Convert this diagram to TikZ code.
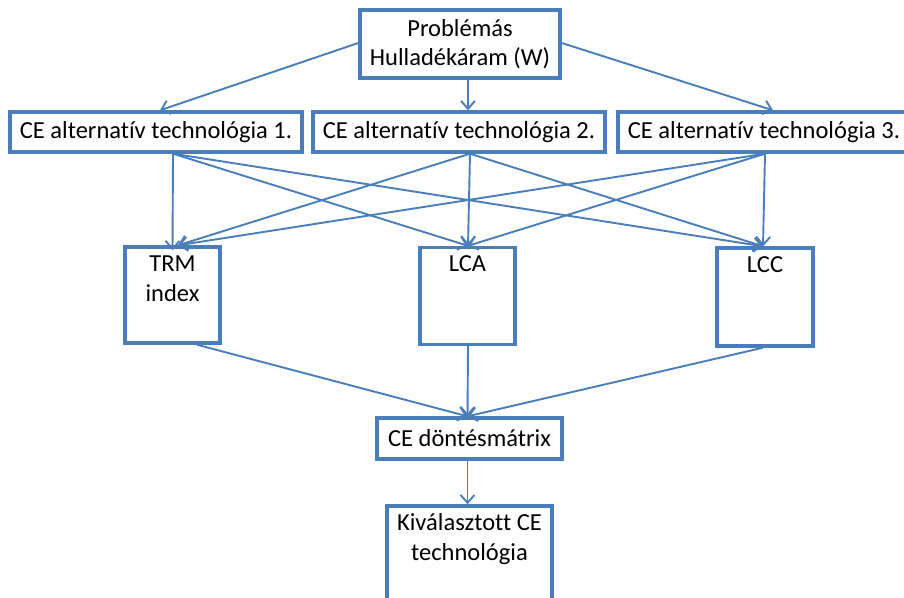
\documentclass[tikz,border=0pt]{standalone}
\usepackage{fontspec}
\setmainfont{Carlito}[Ligatures=NoCommon]
\usetikzlibrary{arrows.meta,calc}

\definecolor{boxblue}{HTML}{4A7EBB}

\begin{document}
\begin{tikzpicture}[x=1pt,y=-1pt,
  box/.style={draw=boxblue, line width=3.4pt, fill=white, inner sep=0pt,
              font=\fontsize{24.5}{29}\selectfont, align=center, text=black},
  txt/.style={font=\fontsize{24.5}{30.5}\selectfont, align=center, text=black, inner sep=0pt},
  conn/.style={draw=boxblue, line width=1.9pt,
               -{Straight Barb[length=8pt,width=14pt,line width=1.9pt]}}]
\useasboundingbox (0,0) rectangle (904,597);

% boxes
\node[box, minimum width=200pt, minimum height=68pt] (src) at (460,44) {Problémás\\Hulladékáram (W)};
\node[box, minimum width=292pt, minimum height=40pt] (alt1) at (156,132) {CE alternatív technológia 1.};
\node[box, minimum width=292pt, minimum height=40pt] (alt2) at (459,132) {CE alternatív technológia 2.};
\node[box, minimum width=292pt, minimum height=40pt] (alt3) at (764,132) {CE alternatív technológia 3.};

\node[box, minimum width=95pt, minimum height=96pt] (trm) at (172.5,295) {};
\node[box, minimum width=95pt, minimum height=97pt] (lca) at (467.5,296) {};
\node[box, minimum width=96pt, minimum height=98pt] (lcc) at (765,297) {};
\node[txt, anchor=north] (trmtxt) at ([yshift=-10pt]trm.north) {TRM\\index};
\node[txt, anchor=north] (lcatxt) at ([yshift=-10pt]lca.north) {LCA};
\node[txt, anchor=north] (lcctxt) at ([yshift=-10pt]lcc.north) {LCC};

\node[box, minimum width=185pt, minimum height=41pt] (dm) at (469.5,438.5) {CE döntésmátrix};
\node[box, minimum width=165pt, minimum height=104pt] (sel) at (469.5,558) {};
\node[txt, anchor=north] (seltxt) at ([yshift=-8.5pt]sel.north) {Kiválasztott CE\\technológia};

% source to alternatives
\draw[conn] ([yshift=1pt]src.west) -- ([xshift=4pt]alt1.north);
\draw[conn] ([xshift=8pt]src.south) -- ([xshift=9pt]alt2.north);
\draw[conn] ([yshift=1pt]src.east) -- ([xshift=9pt]alt3.north);

% alternatives to evaluation methods
\coordinate (a1) at ([xshift=17pt]alt1.south);
\coordinate (a2) at ([xshift=11pt]alt2.south);
\coordinate (a3) at ([xshift=1pt]alt3.south);
\draw[conn] (a1) -- ([yshift=-5pt]trm.north);
\draw[conn] (a1) -- ([xshift=0.5pt]lca.north);
\draw[conn] (a1) -- ([xshift=-2pt]lcc.north);
\draw[conn] (a2) -- ([xshift=5.5pt]trm.north);
\draw[conn] (a2) -- ([xshift=0.5pt]lca.north);
\draw[conn] (a2) -- ([xshift=-2pt]lcc.north);
\draw[conn] (a3) -- ([xshift=5.5pt]trm.north);
\draw[conn] (a3) -- ([xshift=0.5pt]lca.north);
\draw[conn] (a3) -- ([xshift=-2pt]lcc.north);

% evaluation methods to decision matrix
\draw[conn] ([xshift=24.5pt]trm.south) -- ([xshift=-2pt]dm.north);
\draw[conn] ([xshift=0.5pt]lca.south) -- ([xshift=-2pt]dm.north);
\draw[conn] ([xshift=-2pt]lcc.south) -- ([xshift=-2pt]dm.north);

% decision matrix to selected technology
\draw[conn] ([xshift=-2pt]dm.south) -- ([xshift=-2pt]sel.north);
\end{tikzpicture}
\end{document}
